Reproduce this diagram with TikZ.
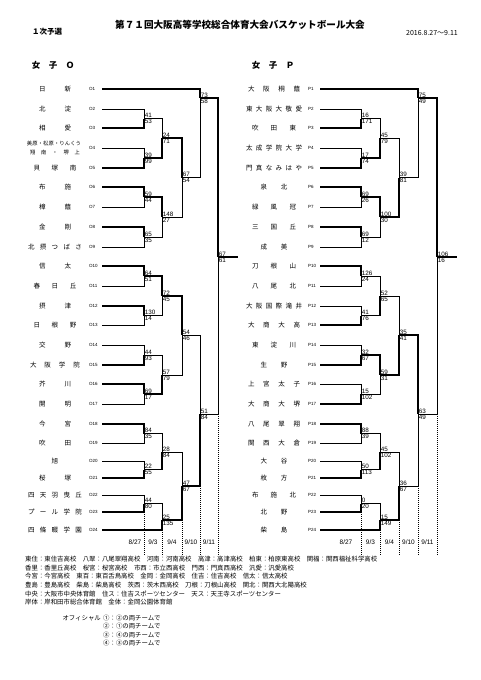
\documentclass[tikz,border=0pt]{standalone}
\usepackage{fontspec}
\setmainfont{Liberation Sans}
\newfontfamily\jp{Noto Sans CJK JP}
\usepackage{tikz}

% spread the letters of a school name over a fixed width
\def\sprd#1{\sprdA#1\relax}
\def\sprdA#1#2{#1\ifx\relax#2\else\hfil\expandafter\sprdA\expandafter#2\fi}
\newcommand\nm[2]{\makebox[#1pt][s]{\expandafter\sprd\expandafter{#2}}}

\begin{document}
\begin{tikzpicture}[x=1pt,y=-1pt,
  win/.style={line width=1.4pt},
  lose/.style={line width=0.5pt},
  datesep/.style={line width=0.4pt,dash pattern=on 1pt off 1pt},
  team/.style={font=\jp\fontsize{6.5}{7}\selectfont,inner sep=0pt},
  code/.style={font=\fontsize{4.5}{5}\selectfont,anchor=west,inner sep=0pt},
  score/.style={font=\fontsize{6.3}{6.3}\selectfont,inner sep=0.7pt},
  day/.style={font=\fontsize{6.5}{7}\selectfont,inner sep=0pt},
  note/.style={font=\jp\fontsize{6.4}{7}\selectfont,anchor=west,inner sep=0pt}]
  \useasboundingbox[fill=white] (0,0) rectangle (481,680);

  % header
  \node[font=\jp\bfseries\fontsize{7.5}{8}\selectfont] (stage) at (47,32) {１次予選};
  \node[font=\jp\bfseries\fontsize{9.6}{10}\selectfont] (title) at (240,25) {第７１回大阪高等学校総合体育大会バスケットボール大会};
  \node[font=\jp\fontsize{7}{8}\selectfont] (period) at (432,33) {2016.8.27～9.11};
  \node[font=\jp\bfseries\fontsize{8.5}{9}\selectfont] (headO) at (53,65) {女　子　Ｏ};
  \node[font=\jp\bfseries\fontsize{8.5}{9}\selectfont] (headP) at (273,65) {女　子　Ｐ};

  % teams, block O
  \foreach \i/\y/\w/\n in {1/89/32/日新,2/109/32/北淀,3/128/32/相愛,5/168/43/貝塚南,
    6/187/32/布施,7/207/32/樟蔭,8/227/32/金剛,9/247/54/北摂つばさ,10/266/32/信太,
    11/286/43/春日丘,12/306/32/摂津,13/325/43/日根野,14/345/32/交野,15/365/50/大阪学院,
    16/384/32/芥川,17/404/32/開明,18/424/32/今宮,19/443/32/吹田,20/461/7/旭,
    21/478/32/桜塚,22/495/54/四天羽曳丘,23/512/54/プール学院,24/530/54/四條畷学園}{
    \coordinate (o\i) at (102,\y);
    \node[code] (co\i) at (89,\y) {O\i};
    \node[team] (no\i) at (55,\y) {\nm{\w}{\n}};
  }
  \coordinate (o4) at (102,148);
  \node[code] (co4) at (89,148) {O4};
  \node[team,font=\jp\fontsize{5.3}{6}\selectfont] (no4a) at (54,143.5) {\nm{54}{美原・松原・りんくう}};
  \node[team,font=\jp\fontsize{5.3}{6}\selectfont] (no4b) at (55,152.5) {\nm{50}{翔南・堺上}};

  % teams, block P
  \foreach \i/\y/\w/\n in {1/89/52/大阪桐蔭,2/109/56/東大阪大敬愛,3/128/44/吹田東,
    4/148/56/太成学院大学,5/168/56/門真なみはや,6/187/27/泉北,7/207/44/緑風冠,
    8/227/44/三国丘,9/247/27/成美,10/266/44/刀根山,11/286/44/八尾北,
    12/306/56/大阪国際滝井,13/325/52/大商大高,14/345/44/東淀川,15/365/27/生野,
    16/384/52/上宮太子,17/404/52/大商大堺,18/424/52/八尾翠翔,19/443/52/関西大倉,
    20/461/27/大谷,21/478/27/枚方,22/495/44/布施北,23/512/27/北野,24/530/27/柴島}{
    \coordinate (p\i) at (320,\y);
    \node[code] (cp\i) at (308,\y) {P\i};
    \node[team] (np\i) at (274,\y) {\nm{\w}{\n}};
  }

  % games: name / x / y / upper / lower / scores / line styles
  \foreach \m/\x/\y/\ia/\ib/\sca/\scb/\wa/\wb in {
    mo1/144/118.5/o2/o3/41/53/lose/win, mo2/144/158/o4/o5/39/99/lose/win,
    mo3/162/138/mo1/mo2/24/71/lose/win, mo4/144/197/o6/o7/59/44/win/lose,
    mo5/144/237/o8/o9/65/35/win/lose, mo6/162/217/mo4/mo5/148/27/win/lose,
    mo7/182/177.5/mo3/mo6/67/54/win/lose, mo8/200/98/o1/mo7/73/58/win/lose,
    mo9/144/276/o10/o11/64/51/win/lose, mo10/144/315.5/o12/o13/130/14/win/lose,
    mo11/162/296/mo9/mo10/72/45/win/lose, mo12/144/355/o14/o15/44/93/lose/win,
    mo13/144/394/o16/o17/69/17/win/lose, mo14/162/375/mo12/mo13/57/79/lose/win,
    mo15/182/335/mo11/mo14/54/46/win/lose, mo16/144/433.5/o18/o19/84/35/win/lose,
    mo17/144/469.5/o20/o21/22/55/lose/win, mo18/162/452/mo16/mo17/28/84/lose/win,
    mo19/144/503.5/o22/o23/44/80/lose/win, mo20/162/520/mo19/o24/25/135/lose/win,
    mo21/182/486/mo18/mo20/47/67/lose/win, mo22/200/414/mo15/mo21/51/84/lose/win,
    mo23/218/257/mo8/mo22/67/61/win/lose,
    mp1/361/118.5/p2/p3/16/171/lose/win, mp2/361/158/p4/p5/17/74/lose/win,
    mp3/380/138/mp1/mp2/45/79/lose/win, mp4/361/197/p6/p7/69/26/win/lose,
    mp5/361/237/p8/p9/69/12/win/lose, mp6/380/217/mp4/mp5/100/30/win/lose,
    mp7/399/177.5/mp3/mp6/39/81/lose/win, mp8/418/98/p1/mp7/75/49/win/lose,
    mp9/361/276/p10/p11/126/24/win/lose, mp10/361/315.5/p12/p13/41/76/lose/win,
    mp11/380/296/mp9/mp10/52/65/lose/win, mp12/361/355/p14/p15/32/67/lose/win,
    mp13/361/394/p16/p17/15/102/lose/win, mp14/380/375/mp12/mp13/59/31/win/lose,
    mp15/399/335/mp11/mp14/35/41/lose/win, mp16/361/433.5/p18/p19/88/39/win/lose,
    mp17/361/469.5/p20/p21/50/113/lose/win, mp18/380/452/mp16/mp17/45/102/lose/win,
    mp19/361/503.5/p22/p23/0/20/lose/win, mp20/380/520/mp19/p24/15/149/lose/win,
    mp21/399/486/mp18/mp20/36/67/lose/win, mp22/418/414/mp15/mp21/63/49/win/lose,
    mp23/437/257/mp8/mp22/106/16/win/lose}{
    \coordinate (\m) at (\x,\y);
    \draw[\wa] (\ia) -| (\m);
    \draw[\wb] (\ib) -| (\m);
    \node[score,anchor=south west] (\m-u) at (\m) {\sca};
    \node[score,anchor=north west] (\m-l) at (\m) {\scb};
  }
  \coordinate (wo) at (238,257);
  \coordinate (wp) at (457,257);
  \draw[win] (mo23) -- (wo);
  \draw[win] (mp23) -- (wp);

  % match days
  \foreach \x/\y in {144/512,162/530,182/520,200/486,218/414,361/512,380/530,399/520,418/486,437/414}
    \draw[datesep] (\x,\y) -- (\x,556);
  \node[day] (do1) at (135,542) {8/27};
  \node[day] (do2) at (153,542) {9/3};
  \node[day] (do3) at (172,542) {9/4};
  \node[day] (do4) at (191,542) {9/10};
  \node[day] (do5) at (209,542) {9/11};
  \node[day] (dp1) at (346,542) {8/27};
  \node[day] (dp2) at (370.5,542) {9/3};
  \node[day] (dp3) at (389.5,542) {9/4};
  \node[day] (dp4) at (408.5,542) {9/10};
  \node[day] (dp5) at (427.5,542) {9/11};

  % venues
  \node[note] (lg1) at (25,559) {東住：東住吉高校　八翠：八尾翠翔高校　河南：河南高校　高津：高津高校　柏東：柏原東高校　関福：関西福祉科学高校};
  \node[note] (lg2) at (25,567.7) {香里：香里丘高校　桜宮：桜宮高校　市西：市立西高校　門西：門真西高校　汎愛：汎愛高校};
  \node[note] (lg3) at (25,576.4) {今宮：今宮高校　東百：東百舌鳥高校　金岡：金岡高校　住吉：住吉高校　信太：信太高校};
  \node[note] (lg4) at (25,585.1) {豊島：豊島高校　柴島：柴島高校　茨西：茨木西高校　刀根：刀根山高校　関北：関西大北陽高校};
  \node[note] (lg5) at (25,593.8) {中央：大阪市中央体育館　住ス：住吉スポーツセンター　天ス：天王寺スポーツセンター};
  \node[note] (lg6) at (25,602.5) {岸体：岸和田市総合体育館　金体：金岡公園体育館};

  % officials
  \node[note,anchor=east] (off) at (101,618) {オフィシャル};
  \node[note] (of1) at (103,618) {①：②の両チームで};
  \node[note] (of2) at (103,626.5) {②：①の両チームで};
  \node[note] (of3) at (103,635) {③：④の両チームで};
  \node[note] (of4) at (103,643.5) {④：③の両チームで};
\end{tikzpicture}
\end{document}
